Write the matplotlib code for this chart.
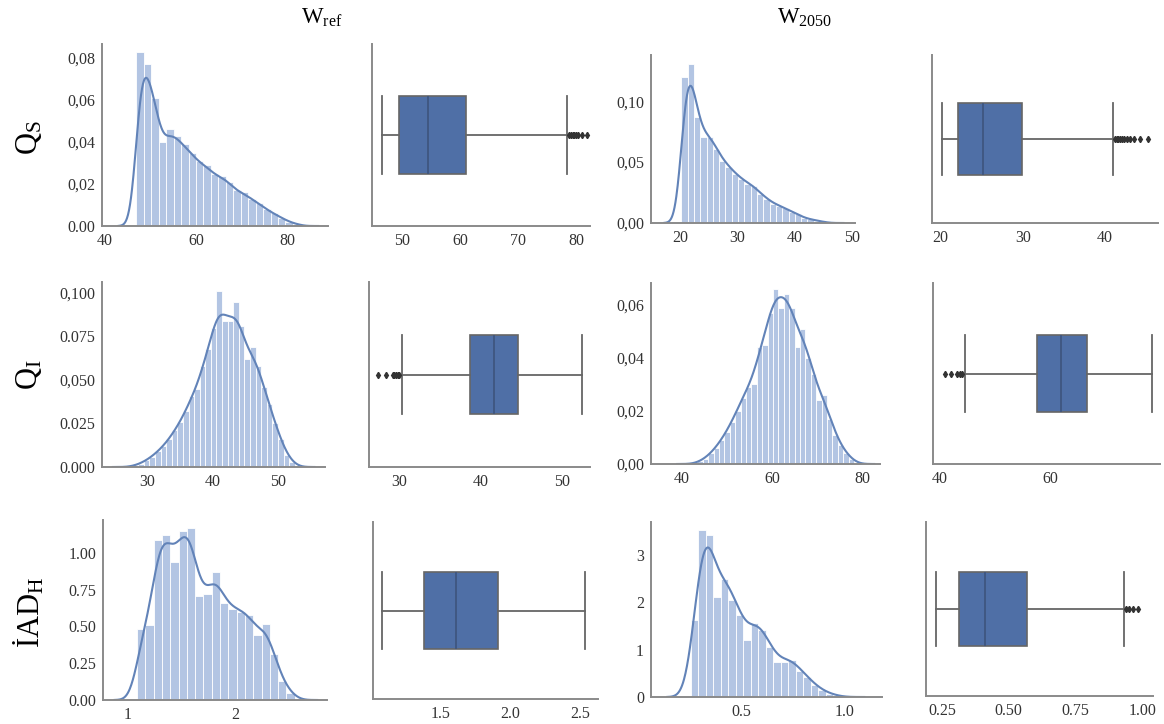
import numpy as np
import matplotlib
matplotlib.use("Agg")
import matplotlib.pyplot as plt

plt.rcParams['font.family'] = ['Liberation Serif', 'DejaVu Serif']
plt.rcParams['mathtext.fontset'] = 'custom'
plt.rcParams['mathtext.rm'] = 'Liberation Serif'
plt.rcParams['mathtext.it'] = 'Liberation Serif:italic'
plt.rcParams['mathtext.bf'] = 'Liberation Serif:bold'

# ---------------- data ----------------
col_titles = [r'$\mathrm{W_{ref}}$', r'$\mathrm{W_{2050}}$']
row_labels = [r'$\mathrm{Q_S}$', r'$\mathrm{Q_I}$', r'$\mathrm{İAD_H}$']

# Histograms (density): first bin edge, bin width, bar heights
qs_ref_start, qs_ref_width = 46.9, 1.63
qs_ref_heights = [0.083, 0.077, 0.061, 0.040, 0.046, 0.043, 0.039, 0.035, 0.031, 0.029,
                  0.025, 0.024, 0.021, 0.017, 0.016, 0.013, 0.011, 0.008, 0.006, 0.004,
                  0.002, 0.001]

qi_ref_start, qi_ref_width = 27.85, 0.85
qi_ref_heights = [0.001, 0.002, 0.004, 0.006, 0.009, 0.012, 0.016, 0.021, 0.026, 0.032,
                  0.041, 0.045, 0.058, 0.068, 0.080, 0.101, 0.084, 0.084, 0.095, 0.081,
                  0.062, 0.069, 0.058, 0.046, 0.036, 0.025, 0.016, 0.007, 0.003]

iad_ref_start, iad_ref_width = 1.084, 0.0776
iad_ref_heights = [0.48, 0.51, 1.09, 1.12, 0.94, 1.15, 1.17, 0.71, 0.72, 0.87,
                   0.66, 0.62, 0.60, 0.58, 0.44, 0.52, 0.31, 0.13, 0.05]

qs_2050_start, qs_2050_width = 20.2, 1.1
qs_2050_heights = [0.120, 0.131, 0.087, 0.071, 0.071, 0.061, 0.051, 0.046, 0.040, 0.036,
                   0.032, 0.030, 0.024, 0.020, 0.016, 0.014, 0.012, 0.009, 0.007, 0.004,
                   0.003, 0.002, 0.001]

qi_2050_start, qi_2050_width = 43.4, 1.2
qi_2050_heights = [0.001, 0.002, 0.004, 0.006, 0.009, 0.012, 0.016, 0.020, 0.025, 0.029,
                   0.030, 0.044, 0.045, 0.057, 0.066, 0.059, 0.064, 0.059, 0.044, 0.051,
                   0.040, 0.034, 0.024, 0.026, 0.017, 0.011, 0.007, 0.004, 0.002]

iad_2050_start, iad_2050_width = 0.259, 0.036
iad_2050_heights = [1.62, 3.54, 3.42, 2.12, 2.50, 2.05, 1.73, 1.20, 1.57, 1.41,
                    1.06, 0.74, 0.74, 0.78, 0.56, 0.42, 0.25, 0.14, 0.07, 0.03]

# Box plot summaries: whisker low, Q1, median, Q3, whisker high, outliers
qs_ref_box = [46.5, 49.4, 54.4, 61.0, 78.4]
qs_ref_out = [78.8, 79.1, 79.4, 79.7, 80.0, 80.4, 81.0, 81.8]
qi_ref_box = [30.4, 38.7, 41.6, 44.6, 52.4]
qi_ref_out = [27.4, 28.4, 29.2, 29.4, 29.6, 29.8, 30.0]
iad_ref_box = [1.086, 1.386, 1.614, 1.914, 2.536]
iad_ref_out = []
qs_2050_box = [20.2, 22.2, 25.2, 29.9, 41.0]
qs_2050_out = [41.2, 41.4, 41.6, 41.8, 42.0, 42.3, 42.6, 43.0, 43.5, 44.2, 45.2]
qi_2050_box = [44.5, 57.6, 62.0, 66.7, 78.5]
qi_2050_out = [40.8, 41.9, 43.0, 43.6, 44.0]
iad_2050_box = [0.228, 0.313, 0.41, 0.567, 0.93]
iad_2050_out = [0.94, 0.95, 0.965, 0.985]

# Tick values and labels
qs_ref_hist_xt = [40, 60, 80]
qs_ref_hist_yt = [0.0, 0.02, 0.04, 0.06, 0.08]
qs_ref_hist_yl = ['0.00', '0,02', '0,04', '0,06', '0,08']
qs_ref_box_xt = [50, 60, 70, 80]
qi_ref_hist_xt = [30, 40, 50]
qi_ref_hist_yt = [0.0, 0.025, 0.05, 0.075, 0.1]
qi_ref_hist_yl = ['0.000', '0.025', '0,050', '0.075', '0,100']
qi_ref_box_xt = [30, 40, 50]
iad_ref_hist_xt = [1, 2]
iad_ref_hist_yt = [0.0, 0.25, 0.5, 0.75, 1.0]
iad_ref_hist_yl = ['0.00', '0.25', '0.50', '0.75', '1.00']
iad_ref_box_xt = [1.5, 2.0, 2.5]
iad_ref_box_xl = ['1.5', '2.0', '2.5']
qs_2050_hist_xt = [20, 30, 40, 50]
qs_2050_hist_yt = [0.0, 0.05, 0.10]
qs_2050_hist_yl = ['0,00', '0,05', '0,10']
qs_2050_box_xt = [20, 30, 40]
qi_2050_hist_xt = [40, 60, 80]
qi_2050_hist_yt = [0.0, 0.02, 0.04, 0.06]
qi_2050_hist_yl = ['0,00', '0,02', '0,04', '0,06']
qi_2050_box_xt = [40, 60]
iad_2050_hist_xt = [0.5, 1.0]
iad_2050_hist_xl = ['0.5', '1.0']
iad_2050_hist_yt = [0, 1, 2, 3]
iad_2050_box_xt = [0.25, 0.50, 0.75, 1.00]
iad_2050_box_xl = ['0.25', '0.50', '0.75', '1.00']

# ---------------- styling ----------------
W, H = 1164, 724
BAR_COLOR = '#b3c5e3'
KDE_COLOR = '#6283b8'
BOX_COLOR = '#4f6fa6'
LINE_GRAY = '#666666'
SPINE_GRAY = '#8a8a8a'

fig = plt.figure(figsize=(W / 100, H / 100), dpi=100)


def px_axes(l, t, r, b):
    return fig.add_axes([l / W, 1 - b / H, (r - l) / W, (b - t) / H])


def style(ax):
    for s in ('top', 'right'):
        ax.spines[s].set_visible(False)
    for s in ('left', 'bottom'):
        ax.spines[s].set_color(SPINE_GRAY)
        ax.spines[s].set_linewidth(1.4)
    ax.tick_params(length=0, pad=5, labelsize=11.5, labelcolor='#333333')


def kde_from_bins(edges, heights, bw, grid):
    centers = 0.5 * (edges[:-1] + edges[1:])
    w = heights * np.diff(edges)
    w = w / w.sum()
    z = (grid[None, :] - centers[:, None]) / bw
    return (w[:, None] * np.exp(-0.5 * z ** 2)).sum(0) / (bw * np.sqrt(2 * np.pi))


def hist_panel(rect, start, width, heights, bw, xlim, ylim, xt, yt, yl, xl=None):
    ax = px_axes(*rect)
    heights = np.asarray(heights)
    edges = start + width * np.arange(len(heights) + 1)
    ax.bar(edges[:-1], heights, width=width, align='edge', color=BAR_COLOR,
           edgecolor='white', linewidth=0.6)
    grid = np.linspace(edges[0] - 3 * bw, edges[-1] + 3 * bw, 400)
    ax.plot(grid, kde_from_bins(edges, heights, bw, grid), color=KDE_COLOR, lw=1.5)
    ax.set_xlim(*xlim)
    ax.set_ylim(*ylim)
    ax.set_xticks(xt)
    if xl is not None:
        ax.set_xticklabels(xl)
    ax.set_yticks(yt)
    if yl is not None:
        ax.set_yticklabels(yl)
    style(ax)
    return ax


def box_panel(rect, box, outliers, xlim, xt, xl=None):
    ax = px_axes(*rect)
    lo, q1, med, q3, hi = box
    stats = [dict(whislo=lo, q1=q1, med=med, q3=q3, whishi=hi, fliers=outliers)]
    ax.bxp(stats, positions=[0], widths=0.43, vert=False, patch_artist=True,
           capwidths=0.43, showfliers=True,
           boxprops=dict(facecolor=BOX_COLOR, edgecolor=LINE_GRAY, linewidth=1.2),
           whiskerprops=dict(color=LINE_GRAY, linewidth=1.3),
           capprops=dict(color=LINE_GRAY, linewidth=1.3),
           medianprops=dict(color='#3f5680', linewidth=1.3),
           flierprops=dict(marker='d', markersize=3.2, markerfacecolor='#333333',
                           markeredgecolor='#333333'))
    ax.set_ylim(-0.5, 0.5)
    ax.set_xlim(*xlim)
    ax.set_yticks([])
    ax.set_xticks(xt)
    if xl is not None:
        ax.set_xticklabels(xl)
    style(ax)
    return ax


# Row 1: Q_S
hist_panel((102, 44, 328, 226), qs_ref_start, qs_ref_width, qs_ref_heights, 1.3,
           (39.4, 88.8), (0, 0.0867), qs_ref_hist_xt, qs_ref_hist_yt, qs_ref_hist_yl)
box_panel((372, 44, 590, 226), qs_ref_box, qs_ref_out, (44.8, 82.4), qs_ref_box_xt)
hist_panel((651, 55, 855, 223), qs_2050_start, qs_2050_width, qs_2050_heights, 1.0,
           (14.9, 50.5), (0, 0.138), qs_2050_hist_xt, qs_2050_hist_yt, qs_2050_hist_yl)
box_panel((932, 55, 1158, 223), qs_2050_box, qs_2050_out, (19.0, 46.4), qs_2050_box_xt)

# Row 2: Q_I
hist_panel((102, 282, 325, 467), qi_ref_start, qi_ref_width, qi_ref_heights, 1.0,
           (23.2, 57.1), (0, 0.1063), qi_ref_hist_xt, qi_ref_hist_yt, qi_ref_hist_yl)
box_panel((369, 282, 590, 467), qi_ref_box, qi_ref_out, (26.3, 53.4), qi_ref_box_xt)
hist_panel((651, 283, 880, 464), qi_2050_start, qi_2050_width, qi_2050_heights, 1.5,
           (33.1, 84.0), (0, 0.0683), qi_2050_hist_xt, qi_2050_hist_yt, qi_2050_hist_yl)
box_panel((933, 283, 1160, 464), qi_2050_box, qi_2050_out, (38.7, 80.0), qi_2050_box_xt)

# Row 3: İAD_H
hist_panel((103, 520, 327, 700), iad_ref_start, iad_ref_width, iad_ref_heights, 0.07,
           (0.766, 2.86), (0, 1.224), iad_ref_hist_xt, iad_ref_hist_yt, iad_ref_hist_yl)
box_panel((373, 522, 598, 699), iad_ref_box, iad_ref_out, (1.02, 2.63),
          iad_ref_box_xt, iad_ref_box_xl)
hist_panel((651, 522, 882, 697), iad_2050_start, iad_2050_width, iad_2050_heights, 0.038,
           (0.067, 1.178), (0, 3.70), iad_2050_hist_xt, iad_2050_hist_yt, None,
           iad_2050_hist_xl)
box_panel((926, 522, 1153, 696), iad_2050_box, iad_2050_out, (0.19, 1.04),
          iad_2050_box_xt, iad_2050_box_xl)

# Column titles and row labels
fig.text(322 / W, 1 - 18 / H, col_titles[0], ha='center', va='center', fontsize=16.5)
fig.text(805 / W, 1 - 18 / H, col_titles[1], ha='center', va='center', fontsize=16.5)
for label, y in zip(row_labels, (138, 375, 612)):
    fig.text(29 / W, 1 - y / H, label, ha='center', va='center', fontsize=22,
             rotation=90)

fig.savefig('out.png', dpi=100)
